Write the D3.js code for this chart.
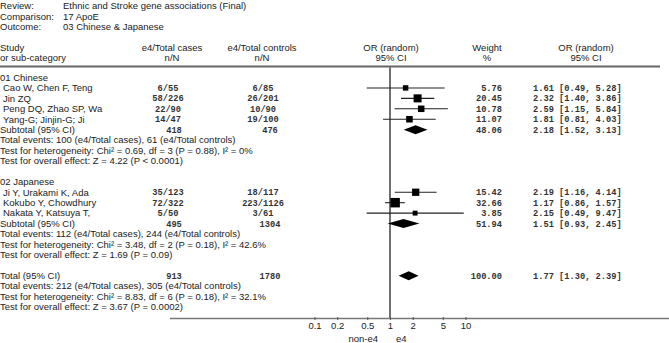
<!DOCTYPE html>
<html>
<head>
<meta charset="utf-8">
<script src="https://cdn.jsdelivr.net/npm/d3@7"></script>
<style>
  body { margin: 0; background: #fff; }
  .sans { font-family: "Liberation Sans", Arial, sans-serif; font-size: 9.5px; fill: #222; }
  .mono { font-family: "Liberation Mono", "Courier New", monospace; font-size: 8.7px; font-weight: bold; fill: #333; }
</style>
</head>
<body>
<div id="chart"></div>
<script>
// header info
const metaLabels = ['Review:', 'Comparison:', 'Outcome:'];
const metaValues = ['Ethnic and Stroke gene associations (Final)', '17 ApoE', '03 Chinese & Japanese'];

// studies
const groupNames = ['01 Chinese', '02 Japanese'];
const studyGroup = [0, 0, 0, 0, 1, 1, 1];
const studies = ['Cao W, Chen F, Teng', 'Jin ZQ', 'Peng DQ, Zhao SP, Wa', 'Yang-G; Jinjin-G; Ji',
  'Ji Y, Urakami K, Ada', 'Kokubo Y, Chowdhury', 'Nakata Y, Katsuya T,'];
const casesE4 = [6, 58, 22, 14, 35, 72, 5];
const casesN = [55, 226, 90, 47, 123, 322, 50];
const controlsE4 = [6, 26, 10, 19, 18, 223, 3];
const controlsN = [85, 201, 90, 100, 117, 1126, 61];
const weights = [5.76, 20.45, 10.78, 11.07, 15.42, 32.66, 3.85];
const orValues = [1.61, 2.32, 2.59, 1.81, 2.19, 1.17, 2.15];
const ciLow = [0.49, 1.40, 1.15, 0.81, 1.16, 0.86, 0.49];
const ciHigh = [5.28, 3.86, 5.84, 4.03, 4.14, 1.57, 9.47];

// subtotals (Chinese, Japanese) and overall total
const sumLabels = ['Subtotal (95% CI)', 'Subtotal (95% CI)', 'Total (95% CI)'];
const sumCasesN = [418, 495, 913];
const sumControlsN = [476, 1304, 1780];
const sumWeights = [48.06, 51.94, 100.00];
const sumOr = [2.18, 1.51, 1.77];
const sumLow = [1.52, 0.93, 1.30];
const sumHigh = [3.13, 2.45, 2.39];
const eventsCases = [100, 112, 212];
const eventsControls = [61, 244, 305];
const chiSq = ['0.69', '3.48', '8.83'];
const dfs = [3, 2, 6];
const pHet = ['0.88', '0.18', '0.18'];
const iSq = ['0%', '42.6%', '32.1%'];
const zVals = ['4.22', '1.69', '3.67'];
const pZ = ['P < 0.0001', 'P = 0.09', 'P = 0.0002'];

// axis
const tickValues = [0.1, 0.2, 0.5, 1, 2, 5, 10];
const tickLabels = ['0.1', '0.2', '0.5', '1', '2', '5', '10'];

const W = 669, H = 343;
const svg = d3.select('#chart').append('svg').attr('width', W).attr('height', H);

// build the row list
const rows = [];
groupNames.forEach((g, gi) => {
  rows.push({ type: 'group', text: g });
  studies.forEach((s, i) => { if (studyGroup[i] === gi) rows.push({ type: 'study', i }); });
  rows.push({ type: 'sum', i: gi });
  rows.push({ type: 'events', i: gi });
  rows.push({ type: 'het', i: gi });
  rows.push({ type: 'z', i: gi });
  rows.push({ type: 'blank' });
});
rows.push({ type: 'sum', i: 2 });
rows.push({ type: 'events', i: 2 });
rows.push({ type: 'het', i: 2 });
rows.push({ type: 'z', i: 2 });

const y = d3.scaleLinear().domain([0, rows.length - 1]).range([77.5, 307]);
const x = d3.scaleLog().domain([0.1, 10]).range([314.5, 465.5]);
const size = d3.scaleSqrt().domain([0, 33]).range([2.5, 9.5]);

const colCases = 168, colControls = 263, colWeight = 502, colOr = 533;
const headY = d3.scaleLinear().domain([0, 1]).range([6, 16.4]);

// meta header
metaLabels.forEach((t, i) => {
  svg.append('text').attr('class', 'sans').attr('x', 0).attr('y', headY(i)).attr('dy', '0.35em').text(t);
  svg.append('text').attr('class', 'sans').attr('x', 63).attr('y', headY(i)).attr('dy', '0.35em').text(metaValues[i]);
});

// column headers
const colHead = [
  { x: 0, a: 'start', t: ['Study', 'or sub-category'] },
  { x: 172, a: 'middle', t: ['e4/Total cases', 'n/N'] },
  { x: 262, a: 'middle', t: ['e4/Total controls', 'n/N'] },
  { x: 391, a: 'middle', t: ['OR (random)', '95% CI'] },
  { x: 487, a: 'middle', t: ['Weight', '%'] },
  { x: 586, a: 'middle', t: ['OR (random)', '95% CI'] }
];
colHead.forEach(c => {
  c.t.forEach((t, k) => {
    svg.append('text').attr('class', 'sans').attr('x', c.x).attr('y', k ? 57.5 : 47.3)
      .attr('dy', '0.35em').attr('text-anchor', c.a).text(t);
  });
});

svg.append('line').attr('x1', 0).attr('x2', 660).attr('y1', 66.5).attr('y2', 66.5)
  .attr('stroke', '#666').attr('stroke-width', 2);

// null line and axis
const axisY = 318.5;
svg.append('line').attr('x1', x(1)).attr('x2', x(1)).attr('y1', 67.5).attr('y2', axisY)
  .attr('stroke', '#111').attr('stroke-width', 1.2);
svg.append('line').attr('x1', 170).attr('x2', W).attr('y1', axisY).attr('y2', axisY)
  .attr('stroke', '#777').attr('stroke-width', 1.5);

const axis = svg.append('g').attr('transform', `translate(0,${axisY - 1.5})`)
  .call(d3.axisBottom(x).tickValues(tickValues).tickFormat((d, i) => tickLabels[i]).tickSize(3).tickPadding(2));
axis.select('.domain').remove();
axis.selectAll('line').attr('stroke', '#555');
axis.selectAll('text').attr('class', 'sans').attr('font-family', null).attr('font-size', null).attr('fill', null);

svg.append('text').attr('class', 'sans').attr('x', 378).attr('y', 341.5).attr('text-anchor', 'end').text('non-e4');
svg.append('text').attr('class', 'sans').attr('x', 396).attr('y', 341.5).text('e4');

const fmt2 = d3.format('.2f');
const orText = (o, l, h) => `${fmt2(o)} [${fmt2(l)}, ${fmt2(h)}]`;

rows.forEach((r, k) => {
  const yy = y(k);
  const txt = (cls, xx, t, anchor) => svg.append('text').attr('class', cls).attr('x', xx).attr('y', yy)
    .attr('dy', '0.35em').attr('text-anchor', anchor || 'start').text(t);
  if (r.type === 'group') {
    txt('sans', 0, r.text);
  } else if (r.type === 'study') {
    const i = r.i;
    txt('sans', 3, studies[i]);
    txt('mono', colCases, `${casesE4[i]}/${casesN[i]}`, 'middle');
    txt('mono', colControls, `${controlsE4[i]}/${controlsN[i]}`, 'middle');
    txt('mono', colWeight, fmt2(weights[i]), 'end');
    txt('mono', colOr, orText(orValues[i], ciLow[i], ciHigh[i]));
    svg.append('line').attr('x1', x(ciLow[i])).attr('x2', x(ciHigh[i])).attr('y1', yy).attr('y2', yy)
      .attr('stroke', '#222').attr('stroke-width', 1.1);
    const s = size(weights[i]);
    svg.append('rect').attr('x', x(orValues[i]) - s / 2).attr('y', yy - s / 2)
      .attr('width', s).attr('height', s).attr('fill', '#000');
  } else if (r.type === 'sum') {
    const i = r.i;
    txt('sans', 0, sumLabels[i]);
    txt('mono', colCases + 6, sumCasesN[i], 'middle');
    txt('mono', colControls + 7, sumControlsN[i], 'middle');
    txt('mono', colWeight, fmt2(sumWeights[i]), 'end');
    txt('mono', colOr, orText(sumOr[i], sumLow[i], sumHigh[i]));
    const pts = [[x(sumLow[i]), yy], [x(sumOr[i]), yy - 4.5], [x(sumHigh[i]), yy], [x(sumOr[i]), yy + 4.5]];
    svg.append('path').attr('d', d3.line()(pts) + 'Z').attr('fill', '#000');
  } else if (r.type === 'events') {
    const i = r.i;
    txt('sans', 0, `Total events: ${eventsCases[i]} (e4/Total cases), ${eventsControls[i]} (e4/Total controls)`);
  } else if (r.type === 'het') {
    const i = r.i;
    txt('sans', 0, `Test for heterogeneity: Chi\u00b2 = ${chiSq[i]}, df = ${dfs[i]} (P = ${pHet[i]}), I\u00b2 = ${iSq[i]}`);
  } else if (r.type === 'z') {
    const i = r.i;
    txt('sans', 0, `Test for overall effect: Z = ${zVals[i]} (${pZ[i]})`);
  }
});
</script>
</body>
</html>
